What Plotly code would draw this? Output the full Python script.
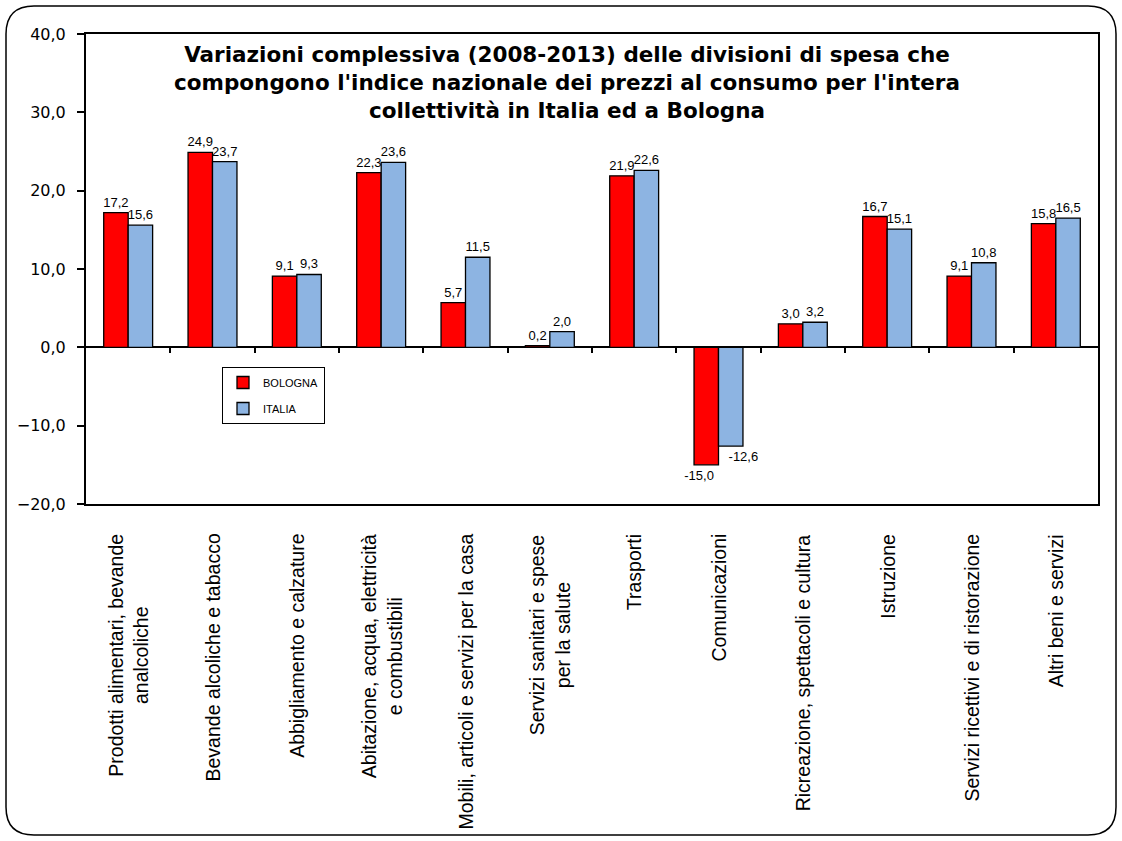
"""Bar chart: overall change 2008-2013 of CPI spending divisions, Bologna vs Italia."""

import numpy as np
import plotly.graph_objects as go

categories = [
    "Prodotti alimentari, bevande<br>analcoliche",
    "Bevande alcoliche e tabacco",
    "Abbigliamento e calzature",
    "Abitazione, acqua, elettricità<br>e combustibili",
    "Mobili, articoli e servizi per la casa",
    "Servizi sanitari e spese<br>per la salute",
    "Trasporti",
    "Comunicazioni",
    "Ricreazione, spettacoli e cultura",
    "Istruzione",
    "Servizi ricettivi e di ristorazione",
    "Altri beni e servizi",
]
bologna = [17.2, 24.9, 9.1, 22.3, 5.7, 0.2, 21.9, -15.0, 3.0, 16.7, 9.1, 15.8]
italia = [15.6, 23.7, 9.3, 23.6, 11.5, 2.0, 22.6, -12.6, 3.2, 15.1, 10.8, 16.5]
y_ticks = [-20, -10, 0, 10, 20, 30, 40]

TITLE = ("Variazioni complessiva (2008-2013) delle divisioni di spesa che<br>"
         "compongono l'indice nazionale dei prezzi al consumo per l'intera<br>"
         "collettività in Italia ed a Bologna")

W, H = 1122, 841
# plot area in pixels
L, R, T, B = 86, 1098, 34, 504


def px(x):
    return (x - L) / (R - L)


def py(y):
    return (B - y) / (B - T)


NBSP = "\u00a0"
# negative labels sit a little outward, as in the original
bologna_tpl = ["%{y:.1f}" + NBSP * 4 if v < 0 else "%{y:.1f}" for v in bologna]
italia_tpl = [NBSP * 7 + "%{y:.1f}" if v < 0 else "%{y:.1f}" for v in italia]

fig = go.Figure()

bar_line = dict(color="black", width=1.3)
label_font = dict(family="Liberation Sans, Arial", size=13, color="black")

fig.add_trace(go.Bar(
    x=categories, y=bologna, name="BOLOGNA", legendgroup="b",
    marker=dict(color="#FF0000", line=bar_line),
    texttemplate=bologna_tpl, textposition="outside", textfont=label_font,
    constraintext="none", cliponaxis=False,
))
fig.add_trace(go.Bar(
    x=categories, y=italia, name="ITALIA", legendgroup="i",
    marker=dict(color="#8DB4E2", line=bar_line),
    texttemplate=italia_tpl, textposition="outside", textfont=label_font,
    constraintext="none", cliponaxis=False,
))

# small ticks along the zero line between categories
fig.add_trace(go.Scatter(x=[], y=[], xaxis="x2", showlegend=False, hoverinfo="skip"))

# category labels, rotated, lines centred
for cat in categories:
    fig.add_annotation(
        x=cat, xref="x", y=py(532), yref="paper", yanchor="top", xanchor="center",
        text=cat, textangle=-90, align="center", showarrow=False,
        font=dict(family="Liberation Sans, Arial", size=19.5, color="black"),
    )

# rounded outer frame
x0, x1, y0, y1, r = 6, 1116, 6, 835, 28
path = (
    f"M {px(x0 + r)},{py(y0)} L {px(x1 - r)},{py(y0)} "
    f"Q {px(x1)},{py(y0)} {px(x1)},{py(y0 + r)} "
    f"L {px(x1)},{py(y1 - r)} Q {px(x1)},{py(y1)} {px(x1 - r)},{py(y1)} "
    f"L {px(x0 + r)},{py(y1)} Q {px(x0)},{py(y1)} {px(x0)},{py(y1 - r)} "
    f"L {px(x0)},{py(y0 + r)} Q {px(x0)},{py(y0)} {px(x0 + r)},{py(y0)} Z"
)
fig.add_shape(type="path", path=path, xref="paper", yref="paper",
              line=dict(color="black", width=1.5), layer="below")

fig.update_layout(
    width=W, height=H,
    margin=dict(l=L, r=W - R, t=T, b=H - B),
    paper_bgcolor="white", plot_bgcolor="white",
    separators=",.",
    barmode="group", bargap=0.42, bargroupgap=0,
    font=dict(family="Liberation Sans, Arial", color="black"),
    title=dict(
        text=TITLE, x=567 / W, xanchor="center", y=1 - 62 / H, yanchor="top",
        font=dict(family="DejaVu Sans", size=21.5, color="black", weight="bold"),
    ),
    showlegend=True,
    legend=dict(
        x=px(222), y=py(367), xanchor="left", yanchor="top",
        bordercolor="black", borderwidth=1, bgcolor="white",
        font=dict(family="Liberation Sans, Arial", size=11, color="black"),
        itemwidth=30, tracegroupgap=7,
    ),
    xaxis=dict(
        type="category",
        showline=True, linecolor="black", linewidth=2, mirror=True,
        ticks="", showticklabels=False, showgrid=False,
    ),
    xaxis2=dict(
        overlaying="x", anchor="free", position=1 / 3, side="bottom",
        range=[-0.5, len(categories) - 0.5],
        tickvals=list(np.arange(len(categories) - 1) + 0.5),
        ticks="outside", ticklen=5, tickwidth=1.5, tickcolor="black",
        showticklabels=False, showline=False, showgrid=False, zeroline=False,
    ),
    yaxis=dict(
        range=[-20, 40], tickvals=y_ticks, tickformat=".1f",
        showline=True, linecolor="black", linewidth=2, mirror=True,
        ticks="outside", ticklen=7, tickwidth=2, tickcolor="black",
        ticklabelstandoff=8,
        tickfont=dict(family="DejaVu Sans", size=16, color="black"),
        showgrid=False,
        zeroline=True, zerolinecolor="black", zerolinewidth=2,
    ),
)

fig.write_html("out.html", config={"displayModeBar": False},
               post_script="document.body.style.margin='0';")
